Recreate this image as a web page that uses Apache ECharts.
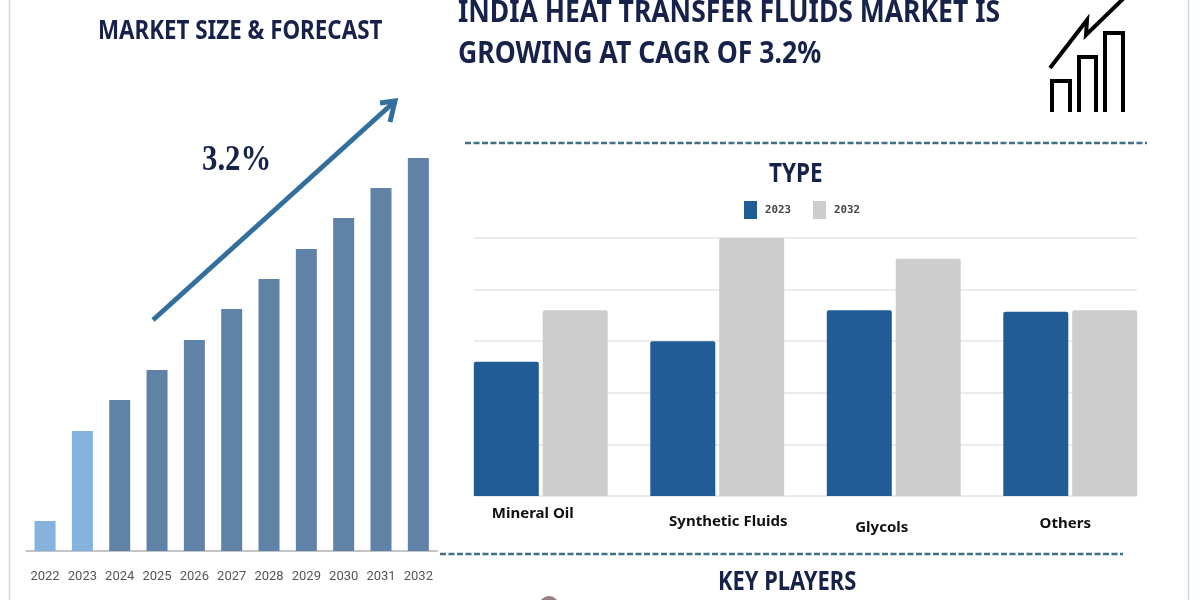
<!DOCTYPE html>
<html><head><meta charset="utf-8">
<style>html,body{margin:0;padding:0;background:#fff}#c{width:1200px;height:600px}</style>
<script src="https://cdn.jsdelivr.net/npm/echarts@6/dist/echarts.min.js"></script>
</head><body><div id="c"></div>
<script>
const years = ['2022','2023','2024','2025','2026','2027','2028','2029','2030','2031','2032'];
const marketSize = [30,120,151,181,211,242,272,302,333,363,393];
const historicalCount = 2;
const types = ['Mineral Oil','Synthetic Fluids','Glycols','Others'];
const values2023 = [2.6,3.0,3.6,3.57];
const values2032 = [3.6,5.0,4.6,3.6];
const typeLabelPads = [[8,16,0,0],[16,0,0,22],[22,24,0,0],[18,10,0,0]];
const navy = '#16224a';
const heading = '"Noto Sans",sans-serif';
const dash = '#3f6f86';

const chart = echarts.init(document.getElementById('c'), null, {renderer:'canvas'});
const text = (x,y,t,size,sx,extra) => ({type:'text',x,y,scaleX:sx,silent:true,style:Object.assign({text:t,fill:navy,font:'bold '+size+'px '+heading,textVerticalAlign:'middle'},extra||{})});
const line = (x1,y1,x2,y2,stroke,w,dashArr) => ({type:'line',silent:true,shape:{x1,y1,x2,y2},style:{stroke,lineWidth:w,lineDash:dashArr||null}});
const poly = (points,stroke,w) => ({type:'polyline',silent:true,shape:{points},style:{stroke,lineWidth:w,fill:null}});

chart.setOption({
  animation:false,
  backgroundColor:'#fff',
  legend:{left:739,top:196,itemWidth:13,itemHeight:18,itemGap:22,icon:'rect',data:['2023','2032'],
    textStyle:{fontFamily:'"DejaVu Sans Mono",monospace',fontSize:10.8,fontWeight:'bold',color:'#444',padding:[1,0,0,3]}},
  grid:[
    {left:26.4,width:410.6,top:130,height:421},
    {left:452.5,width:706,top:238,height:258},
    {left:474,width:663,top:238,height:258}
  ],
  xAxis:[
    {gridIndex:0,type:'category',data:years,axisTick:{show:false},
     axisLine:{lineStyle:{color:'#c4c4c4',width:2}},
     axisLabel:{margin:19,color:'#555',fontSize:13,fontFamily:'"Roboto",sans-serif',interval:0}},
    {gridIndex:1,type:'category',axisTick:{show:false},axisLine:{show:false},
     data:types.map((t,i)=>({value:t,textStyle:{padding:typeLabelPads[i]}})),
     axisLabel:{margin:2,color:'#111',fontSize:15,fontWeight:'bold',fontFamily:heading,interval:0}},
    {gridIndex:2,type:'value',min:0,max:1,show:false}
  ],
  yAxis:[
    {gridIndex:0,type:'value',min:0,max:421,show:false},
    {gridIndex:1,type:'value',min:0,max:5,show:false},
    {gridIndex:2,type:'value',min:0,max:5,interval:1,axisLabel:{show:false},axisTick:{show:false},
     axisLine:{show:false},
     splitLine:{lineStyle:{color:'#e4e4e4',width:1.5}}}
  ],
  series:[
    {type:'line',xAxisIndex:2,yAxisIndex:2,data:[],silent:true},
    {type:'bar',name:'Market size',xAxisIndex:0,yAxisIndex:0,data:marketSize,barWidth:21,
     itemStyle:{color:p=>p.dataIndex<historicalCount?'#85b3dd':'#6082a7'}},
    {type:'bar',name:'2023',xAxisIndex:1,yAxisIndex:1,data:values2023,barWidth:65,barGap:'6%',z:3,
     itemStyle:{color:'#225c96',borderRadius:[2,2,0,0]}},
    {type:'bar',name:'2032',xAxisIndex:1,yAxisIndex:1,data:values2032,barWidth:65,z:3,
     itemStyle:{color:'#cdcdcd',borderRadius:[2,2,0,0]}}
  ],
  graphic:[
    line(9.5,0,9.5,600,'#c8d8e8',1.5),
    line(1188.5,0,1188.5,600,'#c8d8e8',1.5),
    text(98,31,'MARKET SIZE & FORECAST',27,0.828),
    text(458,13.5,'INDIA HEAT TRANSFER FLUIDS MARKET IS',31,0.855),
    text(458,54.5,'GROWING AT CAGR OF 3.2%',31,0.858),
    text(202,161,'3.2%',35,0.88,{font:'bold 35px "Liberation Serif",serif'}),
    text(769,175,'TYPE',26,0.865),
    text(718,583,'KEY PLAYERS',26,0.842),
    line(153,320,393,103,'#336f9d',5),
    poly([[380,103],[395,101],[390,122]],'#336f9d',5),
    line(465,143,1147,143,dash,2.5,[6,2.5]),
    line(440,554,1123,554,dash,2.5,[6,2.5]),
    poly([[1052,112],[1052,81],[1070,81],[1070,112]],'#000',4),
    poly([[1079,112],[1079,57],[1096,57],[1096,112]],'#000',4),
    poly([[1105,112],[1105,33],[1123,33],[1123,112]],'#000',4),
    poly([[1050,68],[1087,20],[1086,35],[1125,-3]],'#000',4),
    {type:'circle',silent:true,shape:{cx:549,cy:606,r:10},style:{fill:'#9a7d80'}}
  ]
});
</script></body></html>
